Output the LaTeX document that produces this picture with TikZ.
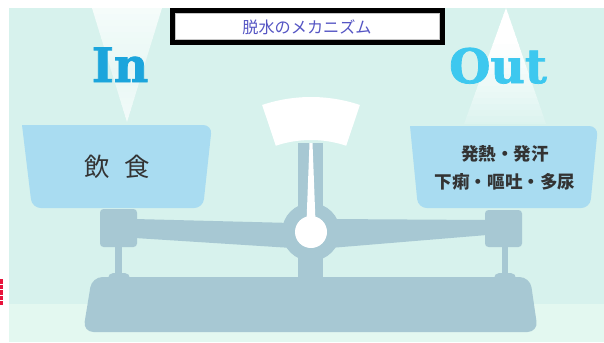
\documentclass[tikz,border=0pt]{standalone}
\usepackage{fontspec}
\usepackage{xcolor}
\usepackage{tikz}
\newfontfamily\jpfont{Noto Sans CJK JP}
\newfontfamily\slabfont{DejaVu Serif}[UprightFont=* Bold, FakeBold=1.6]
\definecolor{bgup}{HTML}{D7F2ED}
\definecolor{bglow}{HTML}{E3F8F0}
\definecolor{pan}{HTML}{A9DCF1}
\definecolor{steel}{HTML}{A7C8D3}
\definecolor{inblue}{HTML}{1BA5DC}
\definecolor{outblue}{HTML}{3DC8EF}
\definecolor{titleblue}{HTML}{5555C4}
\definecolor{ink}{HTML}{333333}
\definecolor{redmark}{HTML}{E8143C}
\tikzset{>=latex}

\begin{document}
\begin{tikzpicture}[x=0.02cm, y=-0.02cm]
\tikzset{part/.style={fill=steel, draw=none},
         panfill/.style={fill=pan, draw=none},
         bigword/.style={font=\slabfont\fontsize{27}{30}\selectfont, anchor=base},
         panword/.style={text=ink, align=center}}
    \useasboundingbox (0,0) rectangle (604,342);

    % backdrop
    \fill[bgup] (9,8) rectangle (604,342);
    \fill[bglow] (9,304) rectangle (604,342);
    \draw[redmark, line width=1.7pt, dash pattern=on 2.6pt off 0.6pt] (1.5,279) -- (1.5,305);

    % in arrow, whiter at the top and at the tip
    \begin{scope}
    \clip (92,8) -- (162,8) -- (127,122) -- cycle;
    \foreach \i in {0,...,19}
        \pgfmathsetmacro{\w}{42+3.2*abs(\i-10)}
        \fill[white!\w!bgup] (85,{8+6*\i}) rectangle (170,{14.5+6*\i});
    \end{scope}

    % out arrow, white at the tip and fading into the pan
    \begin{scope}
    \clip (506,8) -- (546,124) -- (464,124) -- cycle;
    \foreach \i in {0,...,19}
        \pgfmathsetmacro{\w}{min(100,135-6.5*\i)}
        \fill[white!\w!bgup] (460,{8+6*\i}) rectangle (550,{14.5+6*\i});
    \end{scope}

% % % % % % % % % % % % % % % % % % %
    \coordinate (Hub) at (311,232);

    % post and dial
    \fill[part] (298,143) rectangle (323,280);
    \fill[white] plot[domain=-108.5:-71.5, samples=30] ({311+154*cos(\x)}, {251+154*sin(\x)})
        -- plot[domain=-71.5:-108.5, samples=30] ({311+111*cos(\x)}, {251+111*sin(\x)}) -- cycle;

    % beam
    \fill[part] (135,219) -- (292,223) -- (292,248) -- (135,238) -- cycle;
    \fill[part] (330,219) -- (487,220) -- (487,235) -- (330,248) -- cycle;

    % left support
    \fill[part, rounded corners=2pt] (100,209) rectangle (137,247);
    \fill[part] (115,245) rectangle (122,276);
    \fill[part, rounded corners=3pt] (108,273) rectangle (130,285);

    % right support
    \fill[part, rounded corners=2pt] (485,210) rectangle (522,247);
    \fill[part] (502,245) rectangle (508,276);
    \fill[part, rounded corners=3pt] (494,273) rectangle (516,285);

    % base
    \fill[part, rounded corners=6pt] (92,277) -- (530,277) -- (538,332) -- (83,332) -- cycle;

    % hub and needle
    \fill[part] (Hub) circle[radius=29];
    \fill[white] (309.5,143) -- (312.5,143) -- (315.5,222) -- (306.5,222) -- cycle;
    \fill[white] (Hub) circle[radius=16];

% % % % % % % % % % % % % % % % % % %
    % pans
    \fill[panfill] (22,125) [rounded corners=5pt] -- (32,208) -- (203,208) -- (212,125) [sharp corners] -- cycle;
    \fill[panfill] (410,126) [rounded corners=5pt] -- (418,208) -- (590,208) -- (598,126) [sharp corners] -- cycle;

    \node[panword, font=\jpfont\fontsize{14.5}{16}\selectfont] (intake) at (117,167) {飲\hspace{0.55em}食};
    \node[panword, font=\jpfont\bfseries\fontsize{10}{16}\selectfont] (loss) at (505,168) {発熱・発汗\\下痢・嘔吐・多尿};

    \node[bigword, text=inblue] (in) at (120,82) {In};
    \node[bigword, text=outblue] (out) at (498,83) {Out};

    % title box
    \draw[line width=2.8pt, fill=white] (172.5,10.5) rectangle (442.5,42.5);
    \draw[gray!45, line width=0.4pt] (175.5,13.5) rectangle (439.5,39.5);
    \node[font=\jpfont\fontsize{9.2}{11}\selectfont, text=titleblue] (title) at (307,27) {脱水のメカニズム};
\end{tikzpicture}
\end{document}
